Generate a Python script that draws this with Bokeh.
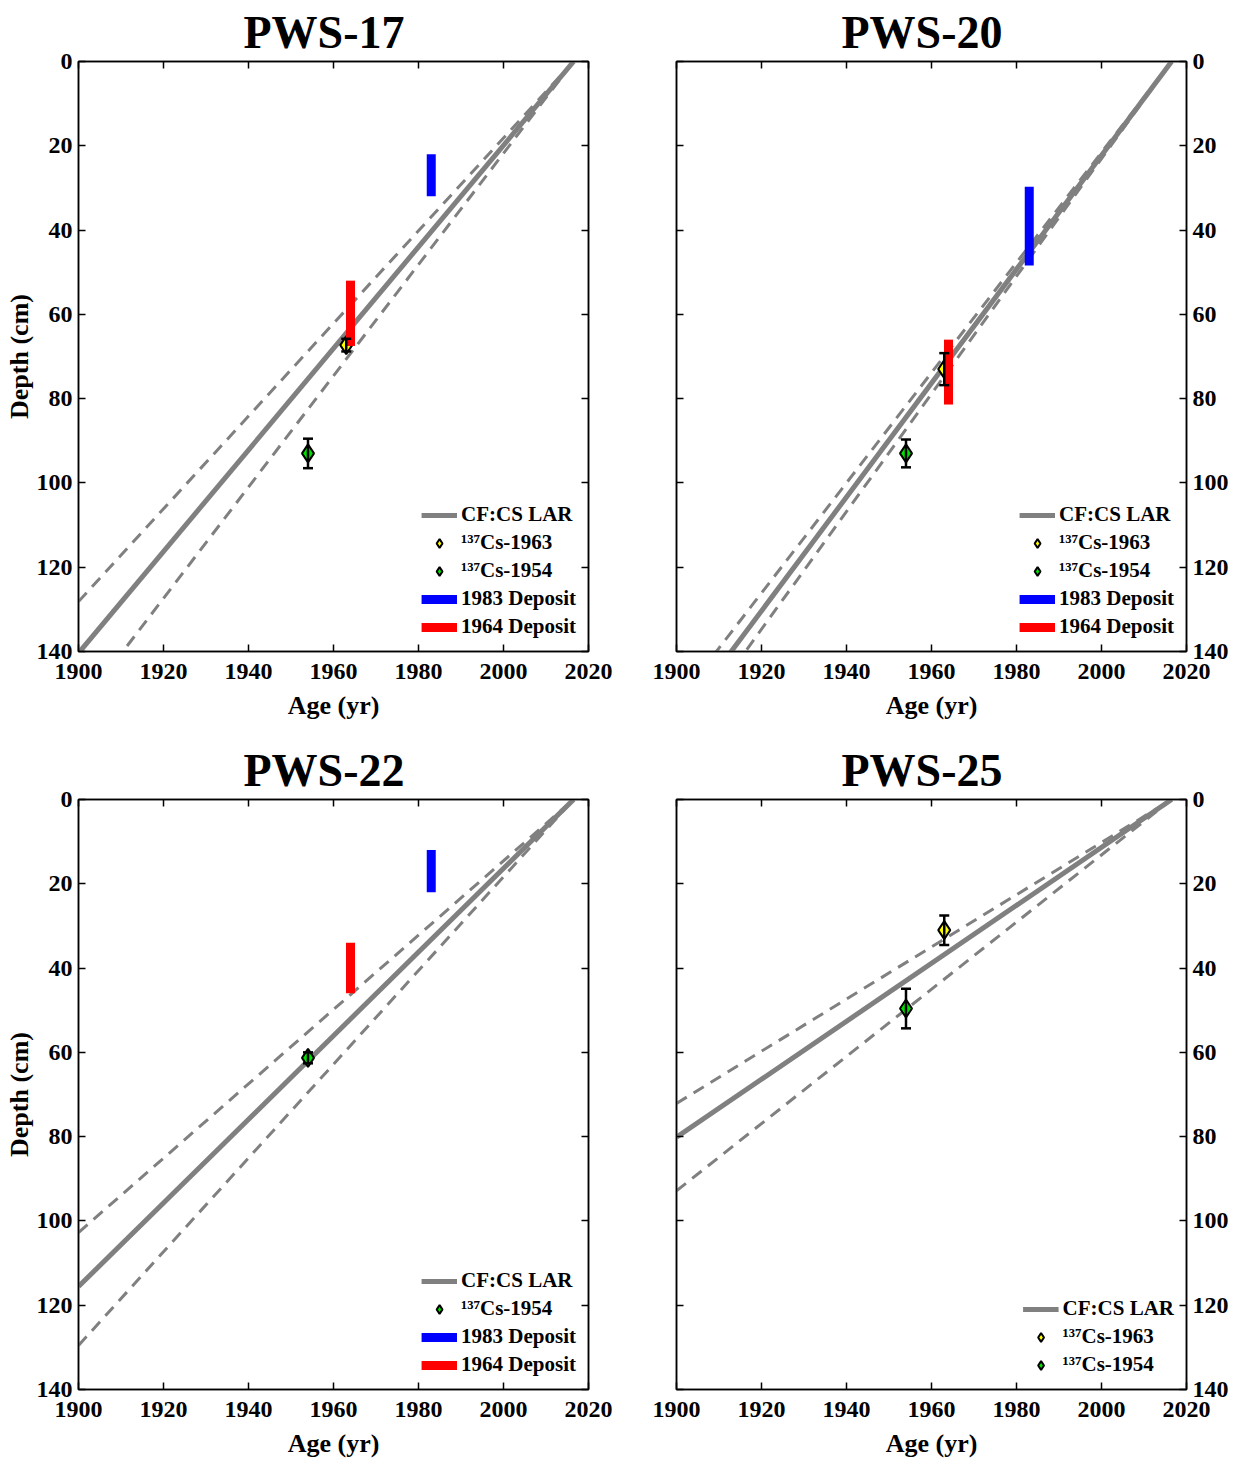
from bokeh.plotting import figure
from bokeh.layouts import column, row
from bokeh.models import (Range1d, LinearAxis, FixedTicker, Whisker, TeeHead,
                          ColumnDataSource, Legend, LegendItem)
from bokeh.embed import file_html
from bokeh.resources import INLINE

# ---- data -----------------------------------------------------------------
cores = ["PWS-17", "PWS-20", "PWS-22", "PWS-25"]

# CF:CS linear accumulation rate model (cm/yr) anchored at the coring year
surface_year = [2016.5, 2016.5, 2016.5, 2016.5]
lar_rate = [1.205, 1.351, 0.992, 0.688]
lar_rate_low = [1.100, 1.307, 0.882, 0.619]
lar_rate_high = [1.320, 1.396, 1.112, 0.797]

# 137Cs markers: depth (cm) and uncertainty (cm); None where absent
cs1963_year = 1963
cs1963_depth = [67.3, 73.0, None, 31.0]
cs1963_err = [1.5, 3.8, None, 3.5]
cs1954_year = 1954
cs1954_depth = [93.0, 93.0, 61.3, 49.6]
cs1954_err = [3.5, 3.3, 1.3, 4.7]

# Event deposits: depth interval (top, bottom) in cm
dep1983_year = 1983
dep1983_top = [22.0, 29.7, 12.0, None]
dep1983_bottom = [32.0, 48.4, 22.0, None]
dep1964_year = 1964
dep1964_top = [52.0, 66.0, 34.0, None]
dep1964_bottom = [67.5, 81.4, 46.0, None]

x_ticks = [1900, 1920, 1940, 1960, 1980, 2000, 2020]
y_ticks = [0, 20, 40, 60, 80, 100, 120, 140]

FONT = "Liberation Serif"
GRAY = "#808080"


def style_axis(ax, ticks, show_labels=True, label_standoff=6, title_standoff=0):
    ax.ticker = FixedTicker(ticks=ticks)
    ax.major_tick_in = 7
    ax.major_tick_out = 0
    ax.minor_tick_line_color = None
    ax.axis_line_color = "black"
    ax.axis_line_width = 1.5
    ax.major_tick_line_width = 1.5
    if show_labels:
        ax.major_label_text_font = FONT
        ax.major_label_text_font_style = "bold"
        ax.major_label_text_font_size = "24px"
        ax.major_label_text_color = "black"
        ax.major_label_standoff = label_standoff
        ax.axis_label_text_font = FONT
        ax.axis_label_text_font_style = "bold"
        ax.axis_label_text_font_size = "26px"
        ax.axis_label_text_color = "black"
        ax.axis_label_standoff = title_standoff
    else:
        # tick marks only
        ax.major_label_text_font_size = "1px"
        ax.major_label_text_color = None
        ax.major_label_standoff = 0


def make_panel(i, right_side, top_row):
    p = figure(
        output_backend="svg", toolbar_location=None,
        x_range=Range1d(1900, 2020), y_range=Range1d(140, 0),
        frame_width=510, frame_height=590,
        y_axis_location="right" if right_side else "left",
        min_border_left=59 if right_side else 78,
        min_border_right=49 if right_side else 29,
        min_border_top=61 if top_row else 71,
        min_border_bottom=77 if top_row else 69,
        background_fill_color="white", border_fill_color="white",
    )
    p.grid.visible = False
    p.outline_line_color = "black"
    p.outline_line_width = 1.5

    p.title.text = cores[i]
    p.title.align = "left"
    p.title.offset = 165
    p.title.standoff = 7
    p.title.text_font = FONT
    p.title.text_font_style = "bold"
    p.title.text_font_size = "46px"
    p.title.text_color = "black"

    style_axis(p.xaxis[0], x_ticks, label_standoff=12, title_standoff=9)
    p.xaxis[0].axis_label = "Age (yr)"
    style_axis(p.yaxis[0], y_ticks, label_standoff=6, title_standoff=0)
    if not right_side:
        p.yaxis[0].axis_label = "Depth (cm)"

    # mirrored inward ticks on the remaining sides
    top_ax = LinearAxis()
    style_axis(top_ax, x_ticks, show_labels=False)
    p.add_layout(top_ax, "above")
    side_ax = LinearAxis()
    style_axis(side_ax, y_ticks, show_labels=False)
    p.add_layout(side_ax, "left" if right_side else "right")

    # age-depth model lines
    sy = surface_year[i]
    yrs = [1900, sy]
    solid = p.line(yrs, [lar_rate[i] * (sy - 1900), 0],
                   line_color=GRAY, line_width=5)
    for r in (lar_rate_low[i], lar_rate_high[i]):
        p.line(yrs, [r * (sy - 1900), 0], line_color=GRAY,
               line_width=3, line_dash="12 8")

    items = [LegendItem(label="CF:CS LAR", renderers=[solid])]

    # 137Cs markers with error bars
    for yr, dep, err, col, lab in (
            (cs1963_year, cs1963_depth[i], cs1963_err[i], "#ffff00", "\u00b9\u00b3\u2077Cs-1963"),
            (cs1954_year, cs1954_depth[i], cs1954_err[i], "#00e000", "\u00b9\u00b3\u2077Cs-1954")):
        if dep is None:
            continue
        src = ColumnDataSource(dict(x=[yr], y=[dep], lo=[dep - err], hi=[dep + err]))
        p.add_layout(Whisker(source=src, base="x", lower="lo", upper="hi",
                             dimension="height", line_color="black", line_width=2.5,
                             upper_head=TeeHead(size=10, line_width=2.5, line_color="black"),
                             lower_head=TeeHead(size=10, line_width=2.5, line_color="black"),
                             level="glyph"))
        pt = p.scatter("x", "y", source=src, marker="diamond", size=18,
                       fill_color=col, line_color="black", line_width=2)
        items.append(LegendItem(label=lab, renderers=[pt]))

    # event deposit intervals
    for yr, top, bot, col, lab in (
            (dep1983_year, dep1983_top[i], dep1983_bottom[i], "#0000ff", "1983 Deposit"),
            (dep1964_year, dep1964_top[i], dep1964_bottom[i], "#ff0000", "1964 Deposit")):
        if top is None:
            continue
        seg = p.segment(x0=[yr], y0=[top], x1=[yr], y1=[bot],
                        line_color=col, line_width=9, line_cap="butt")
        items.append(LegendItem(label=lab, renderers=[seg]))

    legend = Legend(items=items, location="bottom_right",
                    border_line_color=None, background_fill_alpha=0,
                    label_text_font=FONT, label_text_font_style="bold",
                    label_text_font_size="21px", label_text_color="black",
                    glyph_width=36, glyph_height=22, label_height=22,
                    label_standoff=4, spacing=3, padding=6, margin=12)
    p.add_layout(legend)
    return p


p1 = make_panel(0, False, True)
p2 = make_panel(1, True, True)
p3 = make_panel(2, False, False)
p4 = make_panel(3, True, False)

layout = column(row(p1, p2), row(p3, p4))

with open("out.html", "w") as f:
    f.write(file_html(layout, INLINE))
